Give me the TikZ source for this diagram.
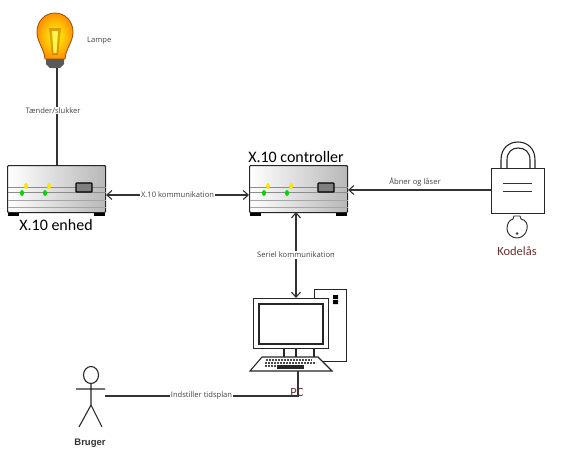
\documentclass[tikz,border=0pt]{standalone}
\usepackage{fontspec}
\setmainfont{Open Sans}
\newfontfamily\calfont{Carlito}
\newfontfamily\arialfont{Liberation Sans}
\usetikzlibrary{arrows.meta}
\definecolor{linegrey}{HTML}{333333}
\definecolor{labelgrey}{HTML}{444444}
\definecolor{reddish}{HTML}{6B2F2F}
\tikzset{
  x=1pt,y=-1pt,
  conn/.style={draw=linegrey,line width=1.1pt},
  barb/.style={conn,{Straight Barb[length=5pt,width=9pt]}-{Straight Barb[length=5pt,width=9pt]}},
  barbend/.style={conn,-{Straight Barb[length=5pt,width=9pt]}},
  small/.style={font=\fontsize{7.6}{9}\selectfont,text=labelgrey,inner sep=1pt},
  smallw/.style={small,fill=white},
  cal/.style={font=\calfont\fontsize{16}{18}\selectfont,text=black,inner sep=0pt},
  outline/.style={draw=black!85,line width=1.1pt},
  devbox/.style={draw=black!85,line width=1.1pt,minimum width=98pt,minimum height=47pt,inner sep=0pt,rounded corners=1pt,left color=white,right color=black!28},
}
\newcommand{\devdetails}[1]{%
  \fill[black] (#1.south west)++(1,0) rectangle ++(11,3);
  \fill[black] (#1.south east)++(-12,0) rectangle ++(11,3);
  \foreach \yy/\cc in {22/black!45,27/black!45,35/black!35,42/black!35}
    \draw[\cc,line width=1pt] ([yshift=-\yy pt]#1.north west)++(0.6,0) -- ([yshift=-\yy pt]#1.north east);
  \fill[yellow!90!orange] ([xshift=19pt,yshift=-21pt]#1.north west) ellipse (2 and 3);
  \fill[yellow!90!orange] ([xshift=42pt,yshift=-21pt]#1.north west) ellipse (2 and 3);
  \fill[green!85!black] ([xshift=15pt,yshift=-28pt]#1.north west) ellipse (2 and 3);
  \fill[green!85!black] ([xshift=38pt,yshift=-28pt]#1.north west) ellipse (2 and 3);
  \draw[black,line width=1.2pt,fill=black!50,rounded corners=.7pt] ([xshift=69pt,yshift=-18pt]#1.north west) rectangle ([xshift=85pt,yshift=-27pt]#1.north west);
}
\begin{document}
\begin{tikzpicture}
\useasboundingbox (0,0) rectangle (561,456);
% lamp
\shade[inner color=yellow!95!white,outer color=orange!85!yellow,draw=orange!60!black,line width=.8pt]
  (45,59) .. controls (44,48) and (37,42) .. (37,32) .. controls (37,21) and (45,13) .. (55,13)
  .. controls (65,13) and (73,21) .. (73,32) .. controls (73,42) and (66,48) .. (65,59) -- cycle;
\fill[orange!70!black,opacity=.45] (49,28) -- (61,28) -- (58,55) -- (52,55) -- cycle;
\fill[yellow!70!white] (52,31) -- (58,31) -- (56.5,53) -- (53.5,53) -- cycle;
\fill[black!65] (46,59) -- (64,59) -- (64,64) -- (60,68) -- (50,68) -- (46,64) -- cycle;
\coordinate (lampbase) at (57,68);
\node[small,anchor=west] (lampe) at (86,41) {Lampe};
% devices
\node[devbox,anchor=north west] (enhed) at (7,165) {};
\devdetails{enhed}
\node[devbox,anchor=north west] (ctrl) at (249,165) {};
\devdetails{ctrl}
\node[cal] (enhedtxt) at (56,225) {X.10 enhed};
\node[cal] (ctrltxt) at (296,157) {X.10 controller};
% lock
\draw[outline] (501,168) -- (501,160) .. controls (501,148) and (509,142) .. (518,142) .. controls (527,142) and (535,148) .. (535,160) -- (535,168);
\draw[outline] (507,168) -- (507,160) .. controls (507,152) and (512,148) .. (518,148) .. controls (525,148) and (530,152) .. (530,160) -- (530,168);
\node[outline,anchor=north west,minimum width=53pt,minimum height=45pt,inner sep=0pt] (lock) at (491,168) {};
\draw[draw=black!80,line width=1pt] (503,183) -- (532,183) (503,191) -- (532,191);
\draw[outline,line width=.9pt] (514,216) -- (520,216) -- (521,219) .. controls (526,220) and (528,224) .. (527,229) .. controls (526,235) and (521,238) .. (517,238) .. controls (512,238) and (507,234) .. (507,229) .. controls (507,224) and (509,220) .. (513,219) -- cycle;
\fill[black!70] (517,233.5) circle (1.5);
\node[font=\calfont\fontsize{12.5}{14}\selectfont,text=reddish,inner sep=0pt] (kode) at (517,251) {Kodelås};
% PC
\node[outline,anchor=north west,minimum width=32pt,minimum height=72pt,inner sep=0pt] (tower) at (314,289) {};
\fill[black] (333,295) rectangle (338,299) (333,300) rectangle (338,304);
\node[outline,fill=white,anchor=north west,minimum width=75pt,minimum height=50pt,inner sep=0pt] (monitor) at (253,298) {};
\draw[outline] (259,304) rectangle (323,344);
\draw[outline] (284,348) -- (284,357) (296,348) -- (296,357) (314,348) -- (314,357);
\draw[outline,fill=white] (262,357) -- (318,357) -- (332,371) -- (250,371) -- cycle;
\coordinate (kbd) at (298,371);
\foreach \rr/\ss/\ee in {360/266/312,363/265/316}
  \draw[black!70,line width=1.6pt,dash pattern=on 2pt off 1pt] (\ss,\rr) -- (\ee,\rr);
\draw[black!70,line width=1.6pt,dash pattern=on 2pt off 1pt] (265,366) -- (277,366);
\fill[black!85] (277,365) rectangle (304,368.5);
\node[font=\calfont\fontsize{12.5}{14}\selectfont,text=reddish,inner sep=0pt] (pclabel) at (297,392) {PC};
% actor
\draw[outline] (91,375) circle[x radius=7.5,y radius=8.5];
\draw[outline] (91,383.5) -- (91,405) (76,389) -- (105,389) (79,427) -- (91,405) -- (102,427);
\coordinate (actorhand) at (105,396);
\node[font=\arialfont\bfseries\fontsize{9.5}{11}\selectfont,text=black!80,inner sep=0pt] (bruger) at (90,443) {Bruger};
% connectors
\draw[conn] (lampbase) -- (lampbase |- enhed.north) node[smallw,pos=.42] (tl) at (53,110) {};
\node[smallw] (taend) at (53,110.5) {Tænder/slukker};
\draw[barb] (enhed.east |- 0,195) -- node[smallw] (xk) {X.10 kommunikation} (ctrl.west |- 0,195);
\draw[barb] (296,212) -- node[smallw] (sk) {Seriel kommunikation} (296,298);
\draw[barbend] (lock.west |- 0,190) -- (ctrl.east |- 0,190);
\node[small] (ab) at (415,182) {Åbner og låser};
\draw[conn] (kbd) -- (298,396) -- node[smallw] (it) {Indstiller tidsplan} (actorhand);
\end{tikzpicture}
\end{document}
